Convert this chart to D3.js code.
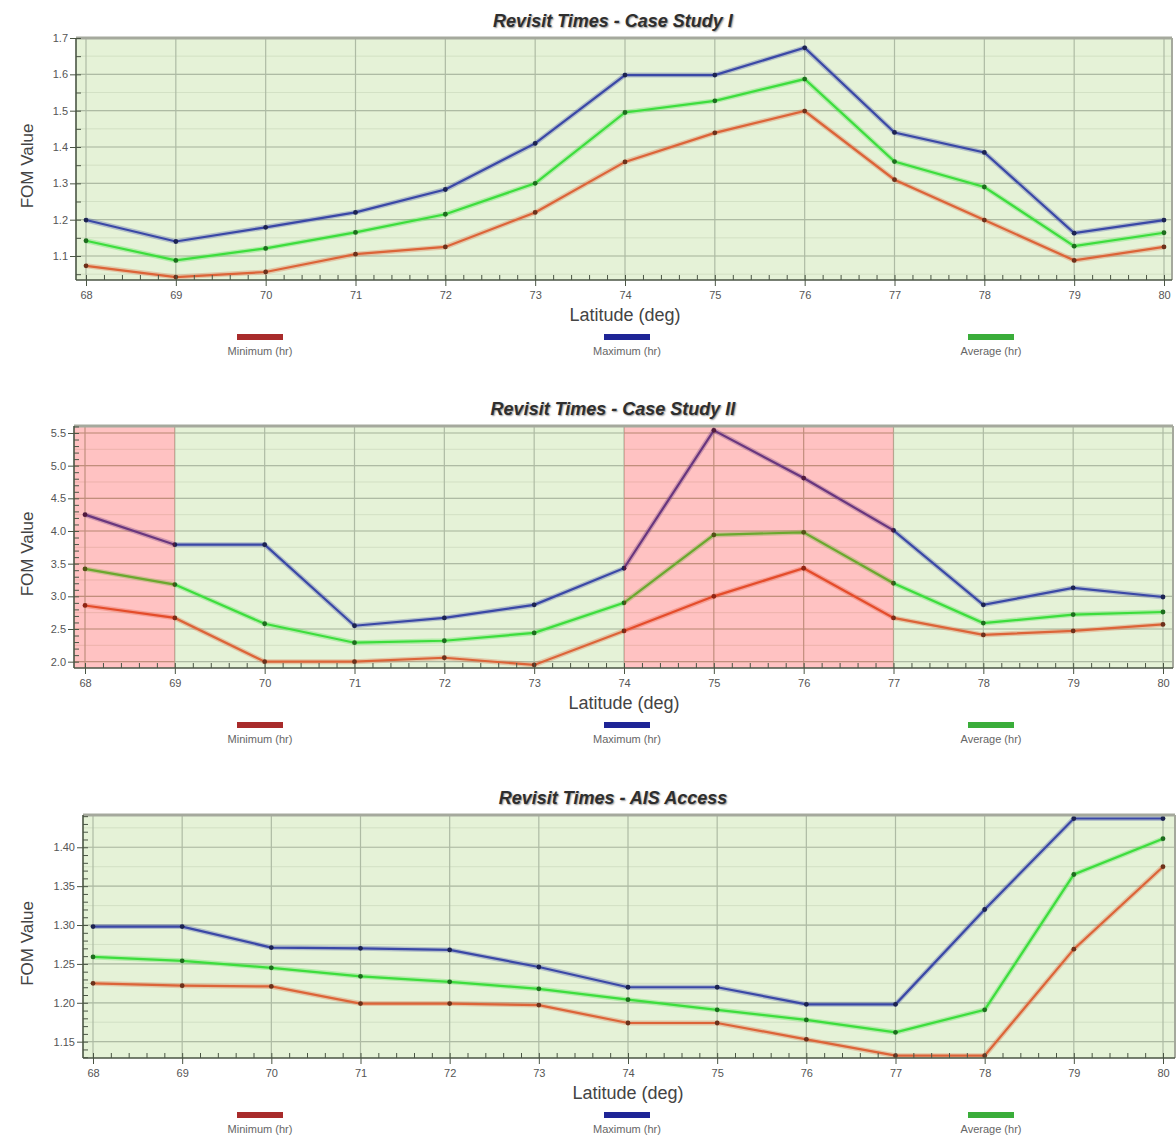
<!DOCTYPE html>
<html>
<head>
<meta charset="utf-8">
<script src="https://cdn.jsdelivr.net/npm/d3@7"></script>
<style>
    body { margin: 0; background: #fff; }
    svg { display: block; font-family: "Liberation Sans", Arial, sans-serif; }
</style>
</head>
<body>
<svg id="chart" width="1176" height="1137"></svg>
<script>
const latitudes = [68, 69, 70, 71, 72, 73, 74, 75, 76, 77, 78, 79, 80];
const seriesNames = ['Minimum (hr)', 'Maximum (hr)', 'Average (hr)'];

const case1Min = [1.073, 1.042, 1.056, 1.105, 1.125, 1.22, 1.359, 1.439, 1.499, 1.31, 1.199, 1.088, 1.125];
const case1Max = [1.199, 1.14, 1.179, 1.22, 1.283, 1.41, 1.598, 1.598, 1.673, 1.44, 1.385, 1.163, 1.199];
const case1Avg = [1.142, 1.088, 1.121, 1.165, 1.215, 1.30, 1.495, 1.527, 1.587, 1.36, 1.29, 1.127, 1.164];
const case1Ticks = [1.1, 1.2, 1.3, 1.4, 1.5, 1.6, 1.7];

const case2Min = [2.86, 2.67, 2.0, 2.0, 2.06, 1.95, 2.47, 3.0, 3.43, 2.67, 2.41, 2.47, 2.57];
const case2Max = [4.25, 3.79, 3.79, 2.55, 2.67, 2.87, 3.43, 5.54, 4.81, 4.01, 2.87, 3.13, 2.99];
const case2Avg = [3.42, 3.18, 2.58, 2.29, 2.32, 2.44, 2.9, 3.94, 3.98, 3.2, 2.59, 2.72, 2.76];
const case2Ticks = [2.0, 2.5, 3.0, 3.5, 4.0, 4.5, 5.0, 5.5];
const case2Alerts = [[68, 69], [74, 77]];

const aisMin = [1.225, 1.222, 1.221, 1.199, 1.199, 1.197, 1.174, 1.174, 1.153, 1.132, 1.132, 1.269, 1.375];
const aisMax = [1.298, 1.298, 1.271, 1.27, 1.268, 1.246, 1.22, 1.22, 1.198, 1.198, 1.32, 1.437, 1.437];
const aisAvg = [1.259, 1.254, 1.245, 1.234, 1.227, 1.218, 1.204, 1.191, 1.178, 1.162, 1.191, 1.365, 1.411];
const aisTicks = [1.15, 1.20, 1.25, 1.30, 1.35, 1.40];

const lineColors = ['#dc6438', '#3a48a6', '#3ddd3d'];
const legendColors = ['#a82b2b', '#1e2596', '#3aad3a'];
const legendX = [260, 627, 991];

const svg = d3.select('#chart');

const panels = [
    { title: 'Revisit Times - Case Study I', top: 38, bottom: 280, left: 76, right: 1172, x0: 86, x1: 1164,
      yDomain: [1.034, 1.7], ticks: case1Ticks, fmt: '.1f', minor: 0.05, band: 0.05,
      series: [case1Min, case1Max, case1Avg], alerts: [] },
    { title: 'Revisit Times - Case Study II', top: 426, bottom: 668, left: 74, right: 1173, x0: 85, x1: 1163,
      yDomain: [1.903, 5.607], ticks: case2Ticks, fmt: '.1f', minor: 0.1, band: 0.25,
      series: [case2Min, case2Max, case2Avg], alerts: case2Alerts },
    { title: 'Revisit Times - AIS Access', top: 815, bottom: 1058, left: 83, right: 1175, x0: 93, x1: 1163,
      yDomain: [1.129, 1.4415], ticks: aisTicks, fmt: '.2f', minor: 0.01, band: 0.025,
      series: [aisMin, aisMax, aisAvg], alerts: [] }
];

const stepRange = (lo, hi, step) => d3.range(Math.ceil(lo / step - 1e-6), Math.floor(hi / step + 1e-6) + 1)
    .map(k => +(k * step).toFixed(4));

const drawPanel = p => {
    const x = d3.scaleLinear().domain([68, 80]).range([p.x0, p.x1]);
    const y = d3.scaleLinear().domain(p.yDomain).range([p.bottom, p.top]);
    const w = p.right - p.left, h = p.bottom - p.top;
    const g = svg.append('g');
    const alertX = d => d[0] <= 68 ? p.left : x(d[0]);

    g.append('rect')
        .attr('x', p.left).attr('y', p.top)
        .attr('width', w).attr('height', h)
        .attr('fill', '#e5f2d7');

    // alert zones sit on white, the red wash goes on top of the lines later
    g.selectAll('.alert-base')
        .data(p.alerts)
        .enter()
        .append('rect')
        .attr('x', alertX).attr('y', p.top)
        .attr('width', d => x(d[1]) - alertX(d)).attr('height', h)
        .attr('fill', '#fff');

    g.selectAll('.band')
        .data(stepRange(p.yDomain[0], p.yDomain[1], p.band))
        .enter()
        .append('line')
        .attr('x1', p.left).attr('x2', p.right)
        .attr('y1', d => y(d)).attr('y2', d => y(d))
        .attr('stroke', '#9fb090').attr('stroke-opacity', 0.25);

    g.selectAll('.hgrid')
        .data(p.ticks)
        .enter()
        .append('line')
        .attr('x1', p.left).attr('x2', p.right)
        .attr('y1', d => y(d)).attr('y2', d => y(d))
        .attr('stroke', '#aebba4').attr('stroke-width', 1.2);

    g.selectAll('.vgrid')
        .data(latitudes)
        .enter()
        .append('line')
        .attr('x1', d => x(d)).attr('x2', d => x(d))
        .attr('y1', p.top).attr('y2', p.bottom)
        .attr('stroke', '#aebba4').attr('stroke-width', 1.2);

    const line = d3.line()
        .x((d, i) => x(latitudes[i]))
        .y(d => y(d));

    p.series.forEach((values, s) => {
        g.append('path')
            .datum(values)
            .attr('d', line)
            .attr('fill', 'none')
            .attr('stroke', lineColors[s])
            .attr('stroke-opacity', 0.3)
            .attr('stroke-width', 5);
        g.append('path')
            .datum(values)
            .attr('d', line)
            .attr('fill', 'none')
            .attr('stroke', lineColors[s])
            .attr('stroke-width', 2.2);
        g.selectAll(`.pt${s}`)
            .data(values)
            .enter()
            .append('circle')
            .attr('cx', (d, i) => x(latitudes[i]))
            .attr('cy', d => y(d))
            .attr('r', 2.4)
            .attr('fill', d3.color(lineColors[s]).darker(2));
    });

    g.selectAll('.alert-wash')
        .data(p.alerts)
        .enter()
        .append('rect')
        .attr('x', alertX).attr('y', p.top)
        .attr('width', d => x(d[1]) - alertX(d)).attr('height', h)
        .attr('fill', '#ff0000').attr('fill-opacity', 0.24);

    // frame
    g.append('line')
        .attr('x1', p.left).attr('x2', p.right)
        .attr('y1', p.top).attr('y2', p.top)
        .attr('stroke', '#a5a99d').attr('stroke-width', 3);
    g.append('line')
        .attr('x1', p.right).attr('x2', p.right)
        .attr('y1', p.top).attr('y2', p.bottom)
        .attr('stroke', '#a5a99d').attr('stroke-width', 2);

    const xAxis = g.append('g')
        .attr('transform', `translate(0,${p.bottom})`)
        .call(d3.axisBottom(x).tickValues(latitudes).tickSizeInner(6).tickSizeOuter(0).tickPadding(5).tickFormat(d3.format('d')));
    const xMinor = g.append('g')
        .attr('transform', `translate(0,${p.bottom})`)
        .call(d3.axisBottom(x).tickValues(stepRange(68, 80, 0.2)).tickSize(-5).tickFormat(''));

    const yAxis = g.append('g')
        .attr('transform', `translate(${p.left},0)`)
        .call(d3.axisLeft(y).tickValues(p.ticks).tickSizeInner(6).tickSizeOuter(0).tickPadding(2).tickFormat(d3.format(p.fmt)));
    const yMinor = g.append('g')
        .attr('transform', `translate(${p.left},0)`)
        .call(d3.axisLeft(y).tickValues(stepRange(p.yDomain[0], p.yDomain[1], p.minor)).tickSize(-5).tickFormat(''));

    [xAxis, xMinor, yAxis, yMinor].forEach(a => {
        a.select('.domain').remove();
        a.selectAll('line').attr('stroke', '#4a5544');
        a.selectAll('text').attr('fill', '#555').style('font-size', '11px');
    });

    g.append('line')
        .attr('x1', p.left).attr('x2', p.left)
        .attr('y1', p.top).attr('y2', p.bottom)
        .attr('stroke', '#4a5544').attr('stroke-width', 1.6);
    g.append('line')
        .attr('x1', p.left).attr('x2', p.right)
        .attr('y1', p.bottom).attr('y2', p.bottom)
        .attr('stroke', '#4a5544').attr('stroke-width', 1.6);

    const midX = (p.x0 + p.x1) / 2;

    g.append('text')
        .text(p.title)
        .attr('x', 613).attr('y', p.top - 11)
        .attr('text-anchor', 'middle')
        .style('font-size', '18px').style('font-weight', 'bold').style('font-style', 'italic')
        .attr('fill', '#2e2e2e')
        .style('text-shadow', '1px 1px 1.5px #999');

    g.append('text')
        .text('Latitude (deg)')
        .attr('x', midX).attr('y', p.bottom + 41)
        .attr('text-anchor', 'middle')
        .style('font-size', '18px')
        .attr('fill', '#444');

    g.append('text')
        .text('FOM Value')
        .attr('transform', `translate(33,${(p.top + p.bottom) / 2 + 7}) rotate(-90)`)
        .attr('text-anchor', 'middle')
        .style('font-size', '17px')
        .attr('fill', '#444');

    g.selectAll('.legend-swatch')
        .data(seriesNames)
        .enter()
        .append('rect')
        .attr('x', (d, i) => legendX[i] - 23)
        .attr('y', p.bottom + 54)
        .attr('width', 46).attr('height', 6)
        .attr('fill', (d, i) => legendColors[i]);

    g.selectAll('.legend-text')
        .data(seriesNames)
        .enter()
        .append('text')
        .text(d => d)
        .attr('x', (d, i) => legendX[i])
        .attr('y', p.bottom + 75)
        .attr('text-anchor', 'middle')
        .style('font-size', '11px')
        .attr('fill', '#666');
};

panels.forEach(drawPanel);
</script>
</body>
</html>
